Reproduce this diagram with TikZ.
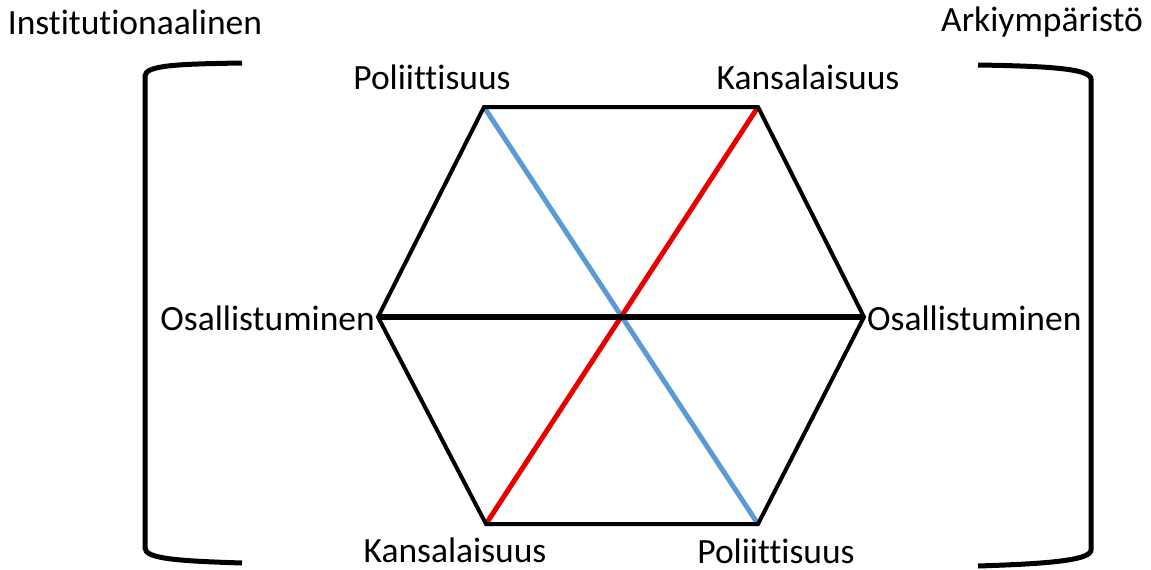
\documentclass[tikz,border=0pt]{standalone}
\usepackage{fontspec}
\setmainfont{Carlito}[Ligatures={NoCommon}]
\begin{document}
\begin{tikzpicture}[x=1pt,y=-1pt,
  lbl/.style={font=\fontsize{35.5}{40}\selectfont, inner sep=0pt},
  edge/.style={line width=4pt, black},
  bracket/.style={line width=5pt, black, line cap=butt, line join=round}]
\useasboundingbox (0,0) rectangle (1151,570);
% vertices
\coordinate (TL) at (484,107);
\coordinate (TR) at (758,107);
\coordinate (L) at (378,317);
\coordinate (R) at (864,317);
\coordinate (BL) at (486,524);
\coordinate (BR) at (758,524);
\coordinate (C) at (621,317);
% diagonals
\draw[line width=5pt, color={rgb,255:red,91;green,155;blue,213}] (TL) -- (BR);
\draw[line width=5pt, color={rgb,255:red,230;green,0;blue,0}] (BL) -- (TR);
% hexagon
\draw[edge, line join=miter] (TL) -- (TR) -- (R) -- (BR) -- (BL) -- (L) -- cycle;
\draw[line width=6pt] (L) -- (R);
% brackets
\coordinate (lb1) at (242,63);
\coordinate (lb4) at (242,563);
\draw[bracket] (lb1) .. controls (180,64) and (145,65) .. (145,76) -- (145,548) .. controls (145,559) and (180,561) .. (lb4);
\coordinate (rb1) at (978,65);
\coordinate (rb4) at (978,566);
\draw[bracket] (rb1) .. controls (1040,66) and (1091,68) .. (1091,79) -- (1091,550) .. controls (1091,561) and (1040,564) .. (rb4);
% labels
\node[lbl] (inst) at (135,22) {Institutionaalinen};
\node[lbl] (arki) at (1042,22) {Arkiympäristö};
\node[lbl] (polt) at (432,77) {Poliittisuus};
\node[lbl] (kant) at (808,77) {Kansalaisuus};
\node[lbl, anchor=east] (osl) at (375,318) {Osallistuminen};
\node[lbl, anchor=west] (osr) at (867,318) {Osallistuminen};
\node[lbl] (kanb) at (455,550) {Kansalaisuus};
\node[lbl] (polb) at (776,551) {Poliittisuus};
\end{tikzpicture}
\end{document}
